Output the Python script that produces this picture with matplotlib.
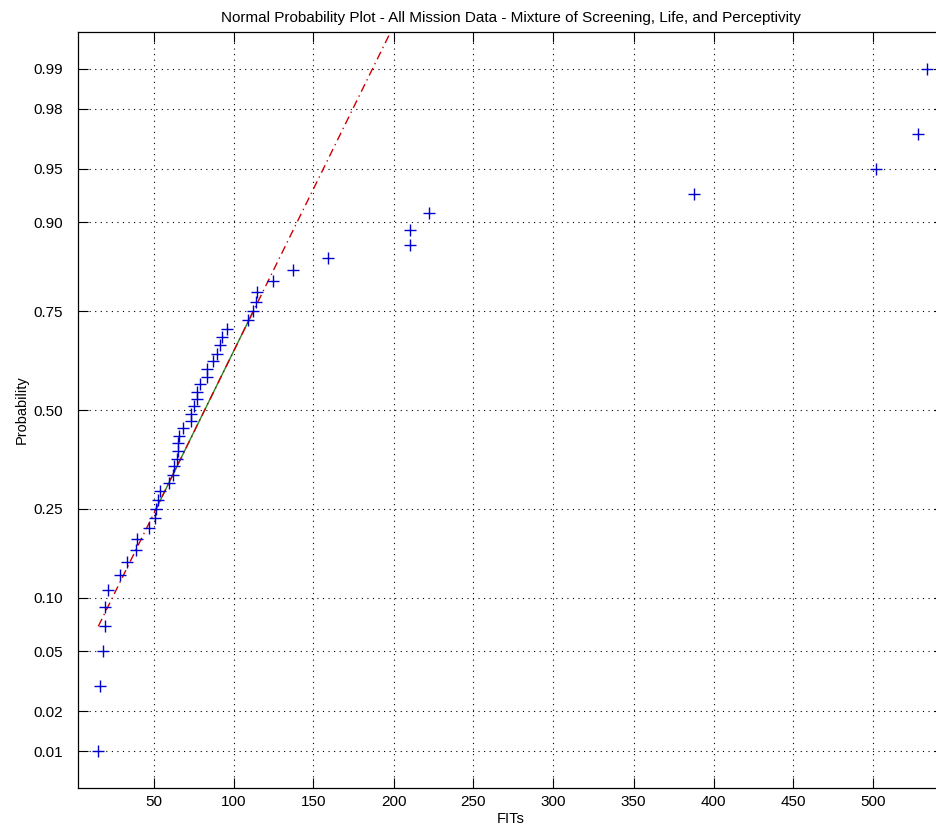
import numpy as np
import matplotlib
matplotlib.use("Agg")
import matplotlib.pyplot as plt
from statistics import NormalDist

# FITs, ordenados
fits = [15.5, 16.8, 18.6, 19.7, 19.7, 21.4, 29.0, 33.6, 39.0, 40.0,
        47.4, 51.0, 51.6, 52.5, 54.0, 59.9, 62.0, 63.0, 64.9, 65.5,
        65.5, 66.0, 68.6, 73.2, 73.4, 75.3, 77.0, 77.5, 79.0, 83.6,
        83.6, 87.0, 89.5, 91.6, 92.6, 95.7, 109.3, 112.4, 114.0, 114.9,
        124.7, 137.0, 159.3, 210.3, 210.3, 222.4, 388.0, 501.6, 527.6, 533.2]

prob_ticks = [0.01, 0.02, 0.05, 0.10, 0.25, 0.50, 0.75, 0.90, 0.95, 0.98, 0.99]
prob_labels = ["0.01", "0.02", "0.05", "0.10", "0.25", "0.50",
               "0.75", "0.90", "0.95", "0.98", "0.99"]
x_ticks = [50, 100, 150, 200, 250, 300, 350, 400, 450, 500]

nd = NormalDist()
_ppf = np.vectorize(lambda p: nd.inv_cdf(min(max(p, 1e-12), 1 - 1e-12)),
                    otypes=[float])
_cdf = np.vectorize(lambda z: nd.cdf(z), otypes=[float])


def adelante(p):
    return _ppf(np.asarray(p, dtype=float))


def atras(z):
    return _cdf(np.asarray(z, dtype=float))


x = np.sort(np.array(fits))
n = len(x)
p = (np.arange(1, n + 1) - 0.5) / n

# cuartiles como en prctile de MATLAB
q1 = np.interp(0.25, p, x)
q3 = np.interp(0.75, p, x)
z1, z3 = nd.inv_cdf(0.25), nd.inv_cdf(0.75)
pend = (q3 - q1) / (z3 - z1)
centro = q1 - pend * z1

fig = plt.figure(figsize=(9.37, 8.30), dpi=100)
ax = fig.add_axes([78 / 937, 42 / 830, (944 - 78) / 937, (788 - 32) / 830])
ax.set_yscale("function", functions=(adelante, atras))

# linea extendida desde el minimo hasta el maximo de los datos
zmax = 3.2
xx = np.linspace(x.min(), centro + pend * zmax, 400)
zz = (xx - centro) / pend
ax.plot(xx, atras(zz), color="#cc0000", lw=1.0,
        linestyle=(0, (6, 3, 1, 3)), zorder=3)
# segmento entre cuartiles
ax.plot([q1, q3], [0.25, 0.75], color="#2a8a2a", lw=1.0, zorder=2)
ax.plot(x, p, "+", color="#0000cc", markersize=8, mew=1.0, zorder=4)

zlim = 2.578
ax.set_ylim(nd.cdf(-zlim), nd.cdf(zlim))
ax.set_xlim((78 - 73.5) / 1.6, (944 - 73.5) / 1.6)
ax.set_yticks(prob_ticks)
ax.set_yticklabels(prob_labels)
ax.set_xticks(x_ticks)
ax.minorticks_off()

ax.grid(True, color="black", linestyle=(0, (1, 4)), linewidth=0.8)
ax.tick_params(direction="in", length=7, width=0.8, top=True, right=True,
               labelsize=11, colors="black")
ax.tick_params(axis="y", pad=11)
ax.tick_params(axis="x", pad=5)
for s in ax.spines.values():
    s.set_linewidth(0.9)

for lab in ax.get_xticklabels() + ax.get_yticklabels():
    lab.set_family("Liberation Sans")

ax.set_title("Normal Probability Plot - All Mission Data - Mixture of Screening, Life, and Perceptivity",
             fontsize=11, family="Liberation Sans", pad=7)
ax.set_xlabel("FITs", fontsize=10.5, family="Liberation Sans", labelpad=2)
ax.set_ylabel("Probability", fontsize=10.5, family="Liberation Sans", labelpad=3)

plt.savefig("out.png", dpi=100)
